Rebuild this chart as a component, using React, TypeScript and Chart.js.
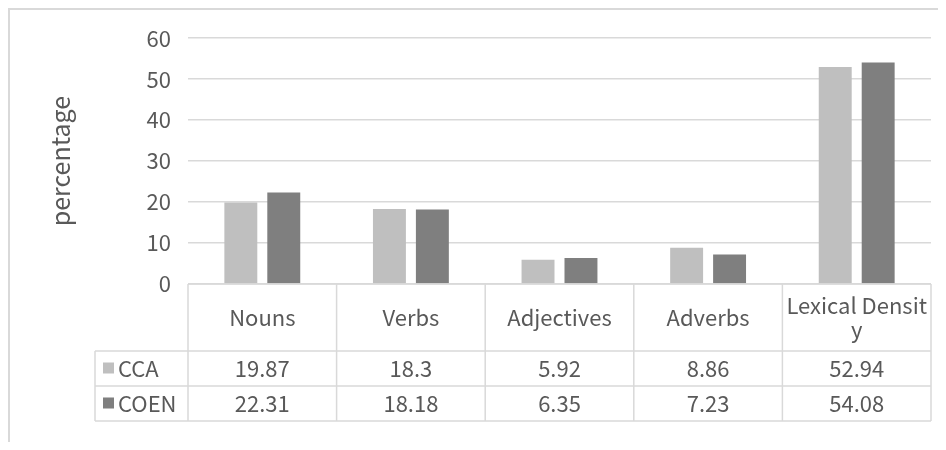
import React, { useEffect, useRef } from "react";
import { Chart, registerables } from "chart.js";

Chart.register(...registerables);

// Word classes compared in the two corpora
const categories = ["Nouns", "Verbs", "Adjectives", "Adverbs", "Lexical Density"];
// Header text as it wraps inside the data-table cells
const headerLines = [["Nouns"], ["Verbs"], ["Adjectives"], ["Adverbs"], ["Lexical Densit", "y"]];
const seriesNames = ["CCA", "COEN"];
const ccaValues = [19.87, 18.3, 5.92, 8.86, 52.94];
const coenValues = [22.31, 18.18, 6.35, 7.23, 54.08];
const seriesColors = ["#bfbfbf", "#7f7f7f"];
const yMin = 0;
const yMax = 60;
const yStep = 10;
const yTitle = "percentage";

const FONT = "'Noto Sans CJK SC', 'Noto Sans', sans-serif";
const WEIGHT = 400;
const TEXT = "#595959";
const LINE = "#d9d9d9";
const FS = 22;

// Excel-style data table drawn under the plot area, aligned to the category scale
const dataTablePlugin = {
  id: "dataTable",
  beforeDraw(chart: any) {
    const { ctx } = chart;
    ctx.save();
    ctx.strokeStyle = LINE;
    ctx.lineWidth = 2;
    ctx.beginPath();
    ctx.moveTo(1, chart.height + 5);
    ctx.lineTo(1, 1);
    ctx.lineTo(chart.width + 5, 1);
    ctx.stroke();
    ctx.restore();
  },
  afterDraw(chart: any) {
    const { ctx, chartArea, scales } = chart;
    const xs = scales.x;
    const n = categories.length;
    const colW = (chartArea.right - chartArea.left) / n;
    const top = chartArea.bottom;
    const headerH = 67;
    const rowH = 35;
    const legendW = 93;
    const left = chartArea.left;
    const right = chartArea.right;
    const legendLeft = left - legendW;
    const bottom = top + headerH + rowH * seriesNames.length;

    ctx.save();
    ctx.strokeStyle = LINE;
    ctx.lineWidth = 1.5;
    ctx.beginPath();
    ctx.moveTo(left, top);
    ctx.lineTo(right, top);
    for (let r = 0; r <= seriesNames.length; r++) {
      const y = top + headerH + r * rowH;
      ctx.moveTo(legendLeft, y);
      ctx.lineTo(right, y);
    }
    for (let i = 0; i <= n; i++) {
      const cx = i < n ? xs.getPixelForValue(i) - colW / 2 : xs.getPixelForValue(n - 1) + colW / 2;
      ctx.moveTo(cx, top);
      ctx.lineTo(cx, bottom);
    }
    ctx.moveTo(legendLeft, top + headerH);
    ctx.lineTo(legendLeft, bottom);
    ctx.stroke();

    ctx.fillStyle = TEXT;
    ctx.font = `${WEIGHT} ${FS}px ${FONT}`;
    ctx.textAlign = "center";
    ctx.textBaseline = "middle";
    const lh = 24;
    headerLines.forEach((lines, i) => {
      const cx = xs.getPixelForValue(i);
      const cy = top + headerH / 2;
      const start = cy - ((lines.length - 1) * lh) / 2;
      lines.forEach((t, k) => ctx.fillText(t, cx, start + k * lh));
    });

    const rows = [ccaValues, coenValues];
    rows.forEach((vals, r) => {
      const cy = top + headerH + r * rowH + rowH / 2;
      vals.forEach((v, i) => {
        ctx.fillStyle = TEXT;
        ctx.textAlign = "center";
        ctx.fillText(String(v), xs.getPixelForValue(i), cy);
      });
      ctx.fillStyle = seriesColors[r];
      ctx.fillRect(legendLeft + 8, cy - 6, 11, 11);
      ctx.fillStyle = TEXT;
      ctx.textAlign = "left";
      ctx.fillText(seriesNames[r], legendLeft + 23, cy);
    });
    ctx.restore();
  },
};

export default function App() {
  const ref = useRef<HTMLCanvasElement | null>(null);

  useEffect(() => {
    if (!ref.current) return;
    const chart = new Chart(ref.current, {
      type: "bar",
      data: {
        labels: categories,
        datasets: [
          { label: seriesNames[0], data: ccaValues, backgroundColor: seriesColors[0] },
          { label: seriesNames[1], data: coenValues, backgroundColor: seriesColors[1] },
        ],
      },
      options: {
        responsive: false,
        animation: false,
        datasets: { bar: { barPercentage: 0.767, categoryPercentage: 0.578 } },
        layout: { padding: { top: 30, right: 7, bottom: 158, left: 0 } },
        plugins: { legend: { display: false }, tooltip: { enabled: false } },
        scales: {
          x: { display: false },
          y: {
            min: yMin,
            max: yMax,
            ticks: {
              stepSize: yStep,
              padding: 17,
              color: TEXT,
              font: { size: FS, family: FONT, weight: WEIGHT },
            },
            grid: { color: LINE, lineWidth: 1.5, drawTicks: false },
            border: { display: false },
            title: {
              display: true,
              text: yTitle,
              color: TEXT,
              font: { size: 25, family: FONT, weight: WEIGHT },
              padding: { top: 37, bottom: 0 },
            },
            afterFit(scale: any) {
              scale.width = 180;
            },
          },
        },
      },
      plugins: [dataTablePlugin],
    });
    return () => chart.destroy();
  }, []);

  return <canvas ref={ref} width={930} height={434} style={{ display: "block" }} />;
}
